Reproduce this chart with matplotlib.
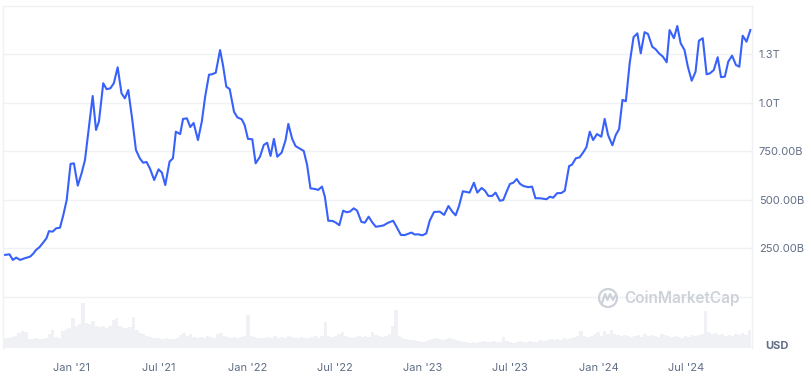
import matplotlib
matplotlib.use("Agg")
import matplotlib.pyplot as plt
from matplotlib.patches import Circle
import pandas as pd

# market cap, weekly-ish points (billions USD)
price_dates = [
    "2020-08-15", "2020-08-24", "2020-08-31", "2020-09-07", "2020-09-15", "2020-09-25", "2020-10-06",
    "2020-10-13", "2020-10-18", "2020-10-25", "2020-11-02", "2020-11-09", "2020-11-14", "2020-11-22",
    "2020-11-29", "2020-12-07", "2020-12-14", "2020-12-21", "2020-12-29",
    "2021-01-05", "2021-01-13", "2021-01-21", "2021-01-28", "2021-02-05", "2021-02-13", "2021-02-20",
    "2021-02-26", "2021-03-07", "2021-03-14", "2021-03-22", "2021-03-29", "2021-04-06", "2021-04-14",
    "2021-04-21", "2021-04-28", "2021-05-06", "2021-05-14", "2021-05-22", "2021-05-29", "2021-06-05",
    "2021-06-12", "2021-06-21", "2021-06-30", "2021-07-07", "2021-07-14", "2021-07-23", "2021-07-30",
    "2021-08-05", "2021-08-14", "2021-08-20", "2021-08-28", "2021-09-04", "2021-09-11", "2021-09-20",
    "2021-09-28", "2021-10-05", "2021-10-13", "2021-10-19", "2021-10-27", "2021-11-05", "2021-11-11",
    "2021-11-18", "2021-11-25", "2021-12-04", "2021-12-11", "2021-12-20", "2021-12-26",
    "2022-01-02", "2022-01-11", "2022-01-18", "2022-01-27", "2022-02-04", "2022-02-11", "2022-02-18",
    "2022-02-25", "2022-03-04", "2022-03-13", "2022-03-21", "2022-03-27", "2022-04-04", "2022-04-11",
    "2022-04-20", "2022-04-28", "2022-05-05", "2022-05-12", "2022-05-21", "2022-05-28", "2022-06-05",
    "2022-06-11", "2022-06-18", "2022-06-27", "2022-07-04", "2022-07-11", "2022-07-19", "2022-07-26",
    "2022-08-02", "2022-08-10", "2022-08-17", "2022-08-26", "2022-09-02", "2022-09-10", "2022-09-18",
    "2022-09-25", "2022-10-03", "2022-10-11", "2022-10-20", "2022-10-31", "2022-11-07", "2022-11-16",
    "2022-11-24", "2022-12-08", "2022-12-15", "2022-12-22", "2022-12-31",
    "2023-01-08", "2023-01-15", "2023-01-24", "2023-02-05", "2023-02-14", "2023-02-23", "2023-03-03",
    "2023-03-10", "2023-03-17", "2023-03-25", "2023-04-02", "2023-04-08", "2023-04-17", "2023-04-24",
    "2023-05-03", "2023-05-10", "2023-05-17", "2023-05-25", "2023-06-01", "2023-06-10", "2023-06-17",
    "2023-06-24", "2023-07-01", "2023-07-08", "2023-07-15", "2023-07-22", "2023-07-29", "2023-08-08",
    "2023-08-16", "2023-08-23", "2023-09-01", "2023-09-15", "2023-09-22", "2023-09-29", "2023-10-07",
    "2023-10-16", "2023-10-23", "2023-11-01", "2023-11-07", "2023-11-15", "2023-11-23", "2023-11-30",
    "2023-12-07", "2023-12-14", "2023-12-21", "2023-12-29",
    "2024-01-07", "2024-01-14", "2024-01-21", "2024-01-30", "2024-02-06", "2024-02-13", "2024-02-20",
    "2024-02-27", "2024-03-06", "2024-03-14", "2024-03-22", "2024-03-29", "2024-04-06", "2024-04-13",
    "2024-04-22", "2024-04-29", "2024-05-06", "2024-05-14", "2024-05-22", "2024-05-28", "2024-06-06",
    "2024-06-13", "2024-06-20", "2024-06-28", "2024-07-05", "2024-07-13", "2024-07-21", "2024-07-28",
    "2024-08-05", "2024-08-13", "2024-08-20", "2024-08-28", "2024-09-05", "2024-09-12", "2024-09-20",
    "2024-09-27", "2024-10-05", "2024-10-13", "2024-10-20", "2024-10-27", "2024-11-04", "2024-11-12",
]
market_cap = [
    217, 220, 191, 203, 191, 200, 208, 225, 242, 256, 280, 303, 339, 337, 354, 357, 423, 500, 686,
    689, 574, 638, 706, 870, 1036, 861, 904, 1102, 1071, 1076, 1102, 1184, 1050, 1024, 1067,
    921, 758, 715, 692, 696, 663, 603, 658, 641, 577, 698, 715, 852, 840, 918, 921,
    876, 897, 809, 904, 1033, 1146, 1148, 1156, 1273, 1196, 1084, 1072, 955, 926, 916, 887,
    815, 813, 689, 723, 784, 795, 727, 815, 723, 744, 806, 892, 815, 778, 765, 753,
    681, 560, 557, 552, 569, 517, 393, 392, 383, 370, 445, 437, 440, 457, 445, 387,
    383, 414, 383, 362, 365, 369, 382, 393, 362, 320, 319, 332, 322, 323, 318,
    328, 393, 438, 440, 423, 469, 440, 421, 469, 545, 541, 538, 589, 538,
    562, 548, 521, 521, 538, 496, 500, 543, 583, 589, 608, 583, 572, 566, 569, 509,
    509, 504, 517, 512, 535, 536, 548, 675, 682, 715, 720, 744, 772, 852, 809, 840,
    826, 918, 835, 782, 835, 866, 1016, 1009, 1205, 1339, 1359, 1256, 1365, 1356, 1290, 1277,
    1256, 1239, 1210, 1376, 1334, 1397, 1308, 1273, 1187, 1115, 1161, 1321,
    1334, 1148, 1153, 1170, 1236, 1133, 1136, 1213, 1244, 1196, 1187, 1347, 1316, 1376,
]

# weekly volume (tens of billions USD, rough reading of the grey bars)
volume_start = "2020-08-16"
volume = [
    10, 10, 11, 12, 15, 17, 16, 9, 9, 10, 9, 9, 10, 14, 18, 11, 10, 17, 19, 20, 30, 22, 24, 45,
    25, 24, 27, 22, 21, 22, 20, 22, 28, 30, 22, 20, 20, 21, 31, 18, 15, 14, 12,
    11, 10, 10, 9, 9, 10, 9, 9, 10, 13, 15, 12, 14, 11, 10, 11, 10, 12, 11, 10,
    14, 15, 12, 11, 10, 11, 10, 11, 12, 33, 12, 11, 10, 10,
    10, 11, 10, 12, 10, 11, 10, 12, 11, 10, 10, 11, 10, 10, 11, 12, 10, 12, 26, 12, 11, 12,
    14, 16, 12, 11, 10, 11, 12, 11, 12, 11, 16, 13, 12, 11, 12, 14, 22, 38, 12, 10, 9,
    8, 8, 7, 7, 6, 7, 8, 9, 10, 9, 8, 9, 10, 9, 8,
    7, 6, 6, 5, 6, 5, 6, 7, 6, 6, 7, 6, 6, 11, 7, 6, 5, 6, 7, 6, 6, 7, 6, 6,
    8, 7, 8, 9, 8, 9, 8, 10, 9, 10, 11, 12, 17, 12, 11, 12, 14, 16, 12, 17, 14, 18,
    14, 13, 12, 13, 12, 11, 12, 13, 11, 14, 12, 13, 12, 11, 14, 13, 12, 11, 12,
    11, 10, 12, 11, 13, 12, 13, 14, 37, 16, 14, 15, 13, 14, 12, 13, 12, 14, 13, 15, 13, 18,
]

tick_dates = ["2021-01-01", "2021-07-01", "2022-01-01", "2022-07-01",
              "2023-01-01", "2023-07-01", "2024-01-01", "2024-07-01"]
tick_labels = ["Jan '21", "Jul '21", "Jan '22", "Jul '22",
               "Jan '23", "Jul '23", "Jan '24", "Jul '24"]
y_ticks = [0, 250, 500, 750, 1000, 1250]
y_labels = ["", "250.00B", "500.00B", "750.00B", "1.0T", "1.3T"]

plt.rcParams["font.family"] = ["Inter", "DejaVu Sans"]
W, H = 811, 382
fig = plt.figure(figsize=(W / 100, H / 100), dpi=100)
fig.patch.set_facecolor("white")

grid_c = "#eff1f4"
text_c = "#616e85"
x0, x1 = 3, 752
top, bottom = 6, 348

ax = fig.add_axes([x0 / W, 1 - bottom / H, (x1 - x0) / W, (bottom - top) / H])
vol_ax = fig.add_axes([x0 / W, 1 - bottom / H, (x1 - x0) / W, 50 / H])
vol_ax.set_zorder(0)
ax.set_zorder(1)
ax.patch.set_alpha(0)

dates = pd.to_datetime(price_dates)
vol_dates = pd.date_range(volume_start, periods=len(volume), freq="7D")
xlim = (pd.Timestamp("2020-08-10 12:00"), pd.Timestamp("2024-11-15 10:00"))

vol_ax.bar(vol_dates, volume, width=7, color="#eff1f4", linewidth=0)
vol_ax.set_xlim(xlim)
vol_ax.set_ylim(0, 50)
vol_ax.axis("off")

ax.plot(dates, market_cap, color="#3861fb", lw=1.5, solid_joinstyle="round", zorder=3)
ax.set_xlim(xlim)
ax.set_ylim(-263, 1500)
ax.set_yticks(y_ticks)
ax.set_yticklabels(y_labels)
ax.yaxis.tick_right()
ax.grid(axis="y", color=grid_c, lw=1)
ax.set_xticks(pd.to_datetime(tick_dates))
ax.set_xticklabels(tick_labels)
ax.tick_params(axis="both", length=0, labelsize=8, labelcolor=text_c)
ax.tick_params(axis="x", pad=11)
ax.tick_params(axis="y", pad=5)
for s in ["top", "left", "right"]:
    ax.spines[s].set_color(grid_c)
    ax.spines[s].set_linewidth(1)
ax.spines["bottom"].set_visible(False)

fig.text(765 / W, 1 - 346 / H, "USD", fontsize=8, fontweight="bold", color=text_c,
         va="center", ha="left")

# watermark
over = fig.add_axes([0, 0, 1, 1])
over.set_xlim(0, W)
over.set_ylim(H, 0)
over.axis("off")
over.set_zorder(2)
logo_c = "#cdd1d8"
over.add_patch(Circle((608, 298), 9, fill=False, ec=logo_c, lw=1.6))
over.plot([602, 605, 607.5, 610, 613, 615], [303, 294, 300, 294, 300, 296],
          color=logo_c, lw=1.6, solid_capstyle="round")
over.text(624, 298.5, "CoinMarketCap", fontsize=11, fontweight="semibold", color=logo_c,
          va="center", ha="left")

fig.savefig("out.png", dpi=100, facecolor="white")
